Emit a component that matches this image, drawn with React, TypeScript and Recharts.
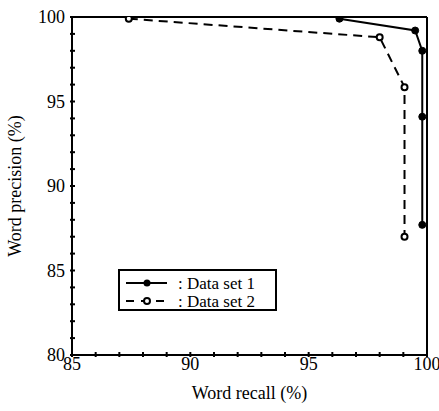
import React from "react";
import { LineChart, Line, XAxis, YAxis, ReferenceLine } from "recharts";

// Data set 1 (solid, filled dots)
const recall1 = [96.3, 99.5, 99.8, 99.8, 99.8];
const precision1 = [99.9, 99.2, 98.0, 94.1, 87.7];

// Data set 2 (dashed, open dots)
const recall2 = [87.4, 98.0, 99.05, 99.05];
const precision2 = [99.9, 98.8, 95.85, 87.0];

// ticks: every unit gets a small mark, multiples of 5 get a label
const xTicks = [85, 86, 87, 88, 89, 90, 91, 92, 93, 94, 95, 96, 97, 98, 99, 100];
const yTicks = [80, 81, 82, 83, 84, 85, 86, 87, 88, 89, 90, 91, 92, 93, 94, 95, 96, 97, 98, 99, 100];
const labelledTicks = [80, 85, 90, 95, 100];

const seriesNames = ["Data set 1", "Data set 2"];

const series1 = recall1.map((r, i) => ({ recall: r, precision: precision1[i] }));
const series2 = recall2.map((r, i) => ({ recall: r, precision: precision2[i] }));

const FONT = "'Liberation Serif', 'DejaVu Serif', serif";

const XTick = ({ x, y, payload }: any) => (
  <g>
    <line x1={x} y1={y + 2} x2={x} y2={y - 3} stroke="#000" strokeWidth={2} />
    {labelledTicks.includes(payload.value) && (
      <text x={x} y={y + 2} dy="0.71em" textAnchor="middle" fontSize={18} fontFamily={FONT} fill="#000">
        {payload.value}
      </text>
    )}
  </g>
);

const YTick = ({ x, y, payload }: any) => (
  <g>
    <line x1={x - 2} y1={y} x2={x + 3} y2={y} stroke="#000" strokeWidth={2} />
    {labelledTicks.includes(payload.value) && (
      <text x={x - 7} y={y} dy="0.35em" textAnchor="end" fontSize={18} fontFamily={FONT} fill="#000">
        {payload.value}
      </text>
    )}
  </g>
);

const FilledDot = ({ cx, cy }: any) => <circle cx={cx} cy={cy} r={3.5} fill="#000" stroke="#000" />;
const OpenDot = ({ cx, cy }: any) => (
  <circle cx={cx} cy={cy} r={3} fill="#fff" stroke="#000" strokeWidth={2} />
);

// legend box, laid over the plot
const LegendBox = () => (
  <svg
    width={159}
    height={42}
    style={{ position: "absolute", left: 118, top: 269, display: "block" }}
  >
    <rect x={1} y={1} width={157} height={40} fill="#fff" stroke="#000" strokeWidth={2} />
    <line x1={8} y1={14} x2={49} y2={14} stroke="#000" strokeWidth={2} />
    <circle cx={29} cy={14} r={3.5} fill="#000" />
    <text x={60} y={14} dy="0.35em" fontSize={17} fontFamily={FONT} fill="#000">
      {":  " + seriesNames[0]}
    </text>
    <line x1={8} y1={32} x2={49} y2={32} stroke="#000" strokeWidth={2} strokeDasharray="8 7" />
    <circle cx={29} cy={32} r={3} fill="#fff" stroke="#000" strokeWidth={2} />
    <text x={60} y={32} dy="0.35em" fontSize={17} fontFamily={FONT} fill="#000">
      {":  " + seriesNames[1]}
    </text>
  </svg>
);

export default function App() {
  return (
    <div style={{ position: "absolute", left: 0, top: 0, width: 439, height: 411, background: "#fff" }}>
      <LineChart
        width={439}
        height={411}
        margin={{ top: 17, right: 12, bottom: 0, left: 0 }}
      >
        <XAxis
          type="number"
          dataKey="recall"
          domain={[85, 100]}
          ticks={xTicks}
          interval={0}
          allowDataOverflow
          height={56}
          tickSize={0}
          tickMargin={0}
          tickLine={false}
          axisLine={{ stroke: "#000", strokeWidth: 2 }}
          tick={<XTick />}
          label={{
            value: "Word recall (%)",
            position: "insideBottom",
            offset: 12,
            fontSize: 18,
            fontFamily: FONT,
            fill: "#000",
          }}
        />
        <YAxis
          type="number"
          dataKey="precision"
          domain={[80, 100]}
          ticks={yTicks}
          interval={0}
          allowDataOverflow
          width={72}
          tickSize={0}
          tickMargin={0}
          tickLine={false}
          axisLine={{ stroke: "#000", strokeWidth: 2 }}
          tick={<YTick />}
          label={{
            value: "Word precision (%)",
            angle: -90,
            position: "insideLeft",
            offset: 15,
            fontSize: 18,
            fontFamily: FONT,
            fill: "#000",
            style: { textAnchor: "middle" },
          }}
        />
        <ReferenceLine y={100} stroke="#000" strokeWidth={2} />
        <ReferenceLine x={100} stroke="#000" strokeWidth={2} />
        <Line
          data={series2}
          dataKey="precision"
          stroke="#000"
          strokeWidth={2}
          strokeDasharray="9 6"
          dot={<OpenDot />}
          isAnimationActive={false}
        />
        <Line
          data={series1}
          dataKey="precision"
          stroke="#000"
          strokeWidth={2}
          dot={<FilledDot />}
          isAnimationActive={false}
        />
      </LineChart>
      <LegendBox />
    </div>
  );
}
